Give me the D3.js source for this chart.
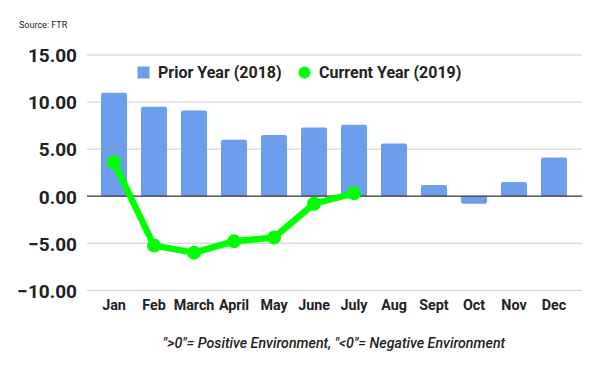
<!DOCTYPE html>
<html><head><meta charset="utf-8">
<script src="https://cdn.jsdelivr.net/npm/d3@7"></script>
<style>body{margin:0;background:#fff;}svg{display:block;font-family:Roboto,"Noto Sans",sans-serif;}</style>
</head><body>
<svg id="c" width="600" height="371"></svg>
<script>
const months = ["Jan","Feb","March","April","May","June","July","Aug","Sept","Oct","Nov","Dec"];
const prior2018 = [11.0, 9.5, 9.1, 6.0, 6.5, 7.3, 7.6, 5.6, 1.2, -0.8, 1.5, 4.1];
const current2019 = [3.6, -5.25, -6.0, -4.8, -4.4, -0.8, 0.3];
const yTicks = [-10, -5, 0, 5, 10, 15];
const seriesNames = ["Prior Year (2018)", "Current Year (2019)"];

const svg = d3.select("#c");
const left = 87, right = 582;
const x = d3.scaleBand().domain(months).range([94, 574]).paddingInner(0.35).paddingOuter(0.175);
const y = d3.scaleLinear().domain([-10, 15]).range([290.3, 55]);
const barColor = "#6d9eeb", lineColor = "#00ff00";

// source
svg.append("text").attr("x", 19).attr("y", 28).attr("font-size", 9).attr("fill", "#222").text("Source: FTR");

// gridlines
svg.append("g").selectAll("line").data(yTicks.filter(d => d !== 0)).join("line")
  .attr("x1", left).attr("x2", right).attr("y1", d => y(d)).attr("y2", d => y(d))
  .attr("stroke", "#cccccc").attr("stroke-width", 1);

// y axis labels
const yAxis = d3.axisLeft(y).tickValues(yTicks).tickFormat(d3.format(".2f")).tickSize(0).tickPadding(0);
const ya = svg.append("g").attr("transform", "translate(77,0)").call(yAxis);
ya.select(".domain").remove();
ya.selectAll("text").attr("font-size", 19).attr("font-weight", "bold").attr("fill", "#222")
  .attr("font-family", "Roboto, sans-serif").attr("dy", "0.36em");

// bars with rounded outer corners
function barPath(d, i) {
  const x0 = x(months[i]), w = x.bandwidth();
  const y0 = y(0), y1 = y(d), r = Math.min(2, Math.abs(y1 - y0));
  if (d >= 0) {
    return `M${x0},${y0}V${y1 + r}Q${x0},${y1} ${x0 + r},${y1}H${x0 + w - r}Q${x0 + w},${y1} ${x0 + w},${y1 + r}V${y0}Z`;
  } else {
    return `M${x0},${y0}V${y1 - r}Q${x0},${y1} ${x0 + r},${y1}H${x0 + w - r}Q${x0 + w},${y1} ${x0 + w},${y1 - r}V${y0}Z`;
  }
}
svg.append("g").selectAll("path").data(prior2018).join("path")
  .attr("d", (d, i) => barPath(d, i)).attr("fill", barColor);

// zero line
svg.append("line").attr("x1", left).attr("x2", right).attr("y1", y(0)).attr("y2", y(0))
  .attr("stroke", "#333").attr("stroke-width", 1.2);

// x axis labels
const xAxis = d3.axisBottom(x).tickSize(0).tickPadding(0);
const xa = svg.append("g").attr("transform", "translate(0,305)").call(xAxis);
xa.select(".domain").remove();
xa.selectAll("text").attr("font-size", 14.3).attr("font-weight", "bold").attr("fill", "#222")
  .attr("font-family", "Roboto, sans-serif").attr("dy", "0.36em").attr("y", 0);

// line
const cx = (d, i) => x(months[i]) + x.bandwidth() / 2;
const line = d3.line().x(cx).y(d => y(d));
svg.append("path").datum(current2019).attr("d", line).attr("fill", "none")
  .attr("stroke", lineColor).attr("stroke-width", 6.5).attr("stroke-linejoin", "round");
svg.append("g").selectAll("circle").data(current2019).join("circle")
  .attr("cx", cx).attr("cy", d => y(d)).attr("r", 7).attr("fill", lineColor);

// legend
const lg = svg.append("g").attr("font-size", 16).attr("font-weight", "bold").attr("fill", "#222");
lg.append("rect").attr("x", 137.5).attr("y", 66.5).attr("width", 12).attr("height", 12).attr("fill", barColor);
lg.append("text").attr("x", 158).attr("y", 72.5).attr("dy", "0.36em").text(seriesNames[0]);
lg.append("circle").attr("cx", 304.5).attr("cy", 72.5).attr("r", 6).attr("fill", lineColor);
lg.append("text").attr("x", 319).attr("y", 72.5).attr("dy", "0.36em").text(seriesNames[1]);

// footnote
svg.append("text").attr("x", 334).attr("y", 343).attr("dy", "0.36em").attr("text-anchor", "middle")
  .attr("font-size", 14.2).attr("font-style", "italic").attr("font-weight", 500).attr("fill", "#222")
  .text('">0"= Positive Environment, "<0"= Negative Environment');
</script>
</body></html>
